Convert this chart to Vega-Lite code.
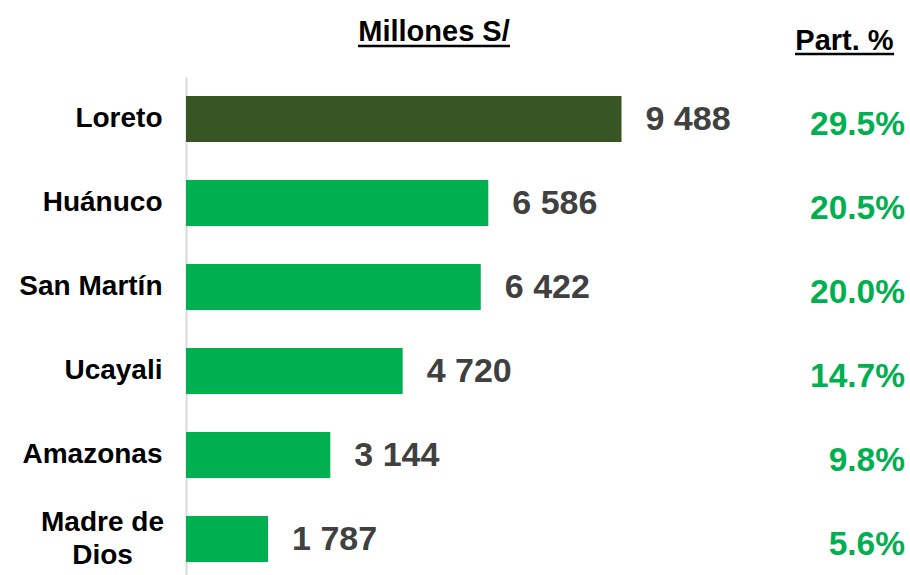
{
  "$schema": "https://vega.github.io/schema/vega-lite/v6.json",
  "width": 719,
  "height": 504,
  "autosize": {"type": "none"},
  "padding": {"left": 186, "top": 77, "right": 5, "bottom": 0},
  "background": "white",
  "config": {"view": {"stroke": null}, "font": "Liberation Sans"},
  "data": {"values": [
    {"region": "Loreto", "value": 9488, "label": "9 488", "pct": "29.5%"},
    {"region": "Huánuco", "value": 6586, "label": "6 586", "pct": "20.5%"},
    {"region": "San Martín", "value": 6422, "label": "6 422", "pct": "20.0%"},
    {"region": "Ucayali", "value": 4720, "label": "4 720", "pct": "14.7%"},
    {"region": "Amazonas", "value": 3144, "label": "3 144", "pct": "9.8%"},
    {"region": "Madre de Dios", "value": 1787, "label": "1 787", "pct": "5.6%"}
  ]},
  "encoding": {
    "y": {
      "field": "region", "type": "nominal", "sort": null,
      "scale": {"paddingInner": 0.45, "paddingOuter": 0.225},
      "axis": {
        "title": null, "ticks": false,
        "labelFont": "Liberation Sans", "labelFontWeight": "bold", "labelFontSize": 28,
        "labelColor": "#000000", "labelLineHeight": 33,
        "labelAlign": {"condition": {"test": "datum.value == 'Madre de Dios'", "value": "center"}, "value": "right"},
        "labelPadding": {"condition": {"test": "datum.value == 'Madre de Dios'", "value": 84}, "value": 24},
        "labelOffset": {"condition": {"test": "datum.value == 'Madre de Dios'", "value": -16}, "value": 0},
        "labelExpr": "datum.value == 'Madre de Dios' ? ['Madre de', 'Dios'] : datum.value",
        "domainColor": "#d9d9d9", "domainWidth": 2, "grid": false
      }
    }
  },
  "layer": [
    {
      "mark": {"type": "bar"},
      "encoding": {
        "x": {"field": "value", "type": "quantitative", "scale": {"domain": [0, 15664], "nice": false}, "axis": null},
        "color": {"condition": {"test": "datum.region === 'Loreto'", "value": "#375623"}, "value": "#00B050"}
      }
    },
    {
      "mark": {"type": "text", "align": "left", "baseline": "middle", "dx": 24, "dy": 1, "fontSize": 34, "fontWeight": "bold", "color": "#404040", "font": "Liberation Sans"},
      "encoding": {
        "x": {"field": "value", "type": "quantitative"},
        "text": {"field": "label"}
      }
    },
    {
      "mark": {"type": "text", "align": "right", "baseline": "middle", "dy": 6, "fontSize": 33.5, "fontWeight": "bold", "color": "#00B050", "font": "Liberation Sans"},
      "encoding": {
        "x": {"datum": 15664, "type": "quantitative"},
        "text": {"field": "pct"}
      }
    },
    {
      "data": {"values": [{"t": "Millones S/"}]},
      "mark": {"type": "text", "align": "center", "baseline": "alphabetic", "dy": -78, "fontSize": 29, "fontWeight": "bold", "color": "#000000", "font": "Liberation Sans"},
      "encoding": {
        "x": {"datum": 5403, "type": "quantitative"},
        "y": {"datum": "Loreto", "type": "nominal"},
        "text": {"field": "t"}
      }
    },
    {
      "data": {"values": [{"t": "Part. %"}]},
      "mark": {"type": "text", "align": "center", "baseline": "alphabetic", "dy": -69, "fontSize": 29, "fontWeight": "bold", "color": "#000000", "font": "Liberation Sans"},
      "encoding": {
        "x": {"datum": 14346, "type": "quantitative"},
        "y": {"datum": "Loreto", "type": "nominal"},
        "text": {"field": "t"}
      }
    },
    {
      "data": {"values": [{"t": "u1"}]},
      "mark": {"type": "rule", "yOffset": -73, "strokeWidth": 2.5, "color": "#000000"},
      "encoding": {
        "x": {"datum": 3747, "type": "quantitative"},
        "x2": {"datum": 7059},
        "y": {"datum": "Loreto", "type": "nominal"}
      }
    },
    {
      "data": {"values": [{"t": "u2"}]},
      "mark": {"type": "rule", "yOffset": -65, "strokeWidth": 2.5, "color": "#000000"},
      "encoding": {
        "x": {"datum": 13268, "type": "quantitative"},
        "x2": {"datum": 15425},
        "y": {"datum": "Loreto", "type": "nominal"}
      }
    }
  ]
}
